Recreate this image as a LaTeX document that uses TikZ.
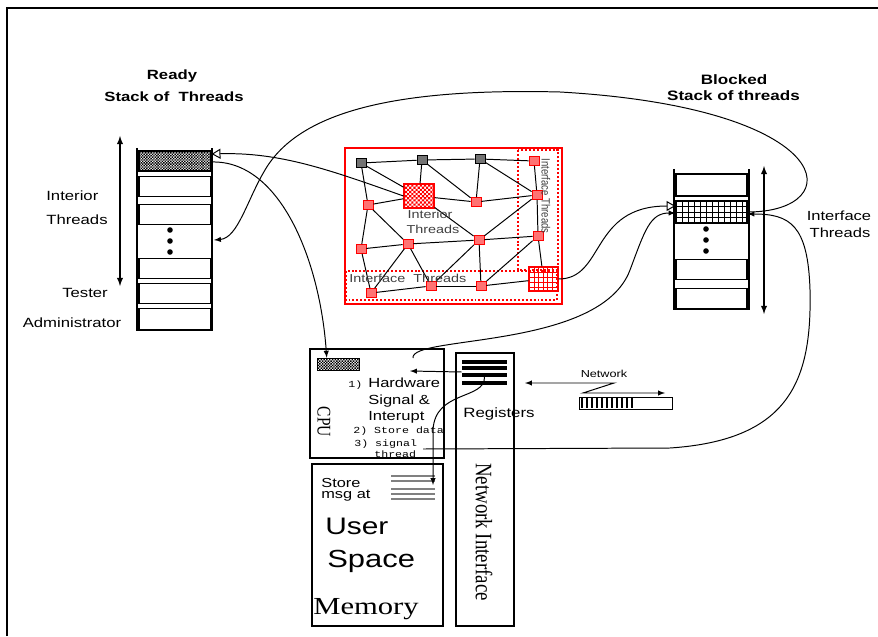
\documentclass[tikz,border=0pt]{standalone}
\usepackage{fontspec}
\setmainfont{Liberation Sans}
\newfontfamily\tmsfont{Liberation Serif}
\newfontfamily\crfont{Liberation Mono}
\usetikzlibrary{arrows, patterns, calc}
\newcommand{\fsz}[1]{\fontsize{#1}{#1}\selectfont}
\pgfdeclarepatternformonly{midchecker}{\pgfqpoint{-0.2pt}{-0.2pt}}{\pgfqpoint{2.2pt}{2.2pt}}{\pgfqpoint{2pt}{2pt}}{%
  \pgfpathrectangle{\pgfqpoint{0pt}{0pt}}{\pgfqpoint{1.02pt}{1.02pt}}%
  \pgfpathrectangle{\pgfqpoint{1pt}{1pt}}{\pgfqpoint{1.02pt}{1.02pt}}%
  \pgfusepath{fill}}
\pgfdeclarepatternformonly{redchecker}{\pgfqpoint{-0.2pt}{-0.2pt}}{\pgfqpoint{3.2pt}{3.2pt}}{\pgfqpoint{3pt}{3pt}}{%
  \pgfpathrectangle{\pgfqpoint{0pt}{0pt}}{\pgfqpoint{1.52pt}{1.52pt}}%
  \pgfpathrectangle{\pgfqpoint{1.5pt}{1.5pt}}{\pgfqpoint{1.52pt}{1.52pt}}%
  \pgfusepath{fill}}

\tikzset{
  txt/.style={inner sep=0pt, xscale=1.25},
  cell/.style={draw, line width=0.8pt, minimum width=1.8cm, minimum height=0.52cm, inner sep=0pt},
  tnode/.style={draw=red, fill=red!55, line width=0.6pt, minimum width=0.25cm, minimum height=0.22cm, inner sep=0pt},
  gnode/.style={draw=black, fill=black!55, line width=0.6pt, minimum width=0.25cm, minimum height=0.22cm, inner sep=0pt},
  reddot/.style={draw=red, line width=1.4pt, dash pattern=on 1.4pt off 1.4pt},
  box/.style={draw, line width=1pt, inner sep=0pt},
  conn/.style={line width=0.7pt},
}

\begin{document}
\begin{tikzpicture}[x=0.025cm, y=-0.025cm]
\useasboundingbox (0,0) rectangle (878,636);
%frame
\draw[line width=1.6pt] (7,636) -- (7,8) -- (878,8);

%ready stack
\draw[line width=1.3pt] (137,148) -- (137,330) -- (212,330) -- (212,148);
\node[cell, pattern=midchecker, minimum height=0.5cm] (r0) at (175,161) {};
\node[cell] (r1) at (175,186.5) {};
\node[cell] (r2) at (175,214.5) {};
\node[cell] (r3) at (175,268.5) {};
\node[cell] (r4) at (175,293.5) {};
\node[cell] (r5) at (175,319) {};
\foreach \y in {230,241,252} \fill (170,\y) circle[radius=2.8];
\coordinate (rdots) at (214,240);
\draw[latex-latex, line width=1pt] (120,136) -- (120,286);
\node[txt, font=\bfseries\fsz{9.5}] (readyttl) at (172,76) {Ready};
\node[txt, font=\bfseries\fsz{9.5}] (readysub) at (174,97) {Stack of\ \ Threads};
\node[txt, font=\fsz{9.5}, anchor=west] (rint1) at (46,196) {Interior};
\node[txt, font=\fsz{9.5}, anchor=west] (rint2) at (46,220) {Threads};
\node[txt, font=\fsz{9.5}] (tester) at (85,293) {Tester};
\node[txt, font=\fsz{9.5}] (admin) at (72,323) {Administrator};

%blocked stack
\draw[line width=1.3pt] (674,169) -- (674,309) -- (749,309) -- (749,169);
\node[cell, minimum width=1.775cm, minimum height=0.55cm] (b1) at (711.5,185) {};
\node[cell, minimum width=1.775cm, minimum height=0.55cm] (bgrid) at (711.5,212) {};
\foreach \x in {682,688,...,742} \draw[line width=0.6pt] (\x,201) -- (\x,223);
\foreach \y in {206.5,212,217.5} \draw[line width=0.6pt] (676,\y) -- (747,\y);
\foreach \y in {229,240,251} \fill (706,\y) circle[radius=2.8];
\node[cell, minimum width=1.775cm] (b3) at (711.5,269.5) {};
\node[cell, minimum width=1.775cm, minimum height=0.5cm] (b4) at (711.5,298.5) {};
\draw[latex-latex, line width=1pt] (764,166) -- (764,314);
\node[txt, font=\bfseries\fsz{9.7}] (blockttl) at (734,80) {Blocked};
\node[txt, font=\bfseries\fsz{9.7}] (blocksub) at (733.5,96) {Stack of threads};
\node[txt, font=\fsz{9.4}] (bint1) at (839,216) {Interface};
\node[txt, font=\fsz{9.4}] (bint2) at (840,233) {Threads};

%thread network
\draw[red, line width=1pt] (345,148) rectangle (562,304);
\draw[reddot] (518,150) rectangle (558,270);
\draw[reddot] (346,271) rectangle (557,300);
\node[gnode] (g1) at (361,163) {};
\node[gnode] (g2) at (422,160) {};
\node[gnode] (g3) at (480,159) {};
\node[tnode] (e1) at (534,161) {};
\node[tnode] (e2) at (537,195) {};
\node[tnode] (e3) at (538,236) {};
\node[tnode] (a1) at (368,205) {};
\node[tnode] (a2) at (476,202) {};
\node[tnode] (b1n) at (361,249) {};
\node[tnode] (b2n) at (408,244) {};
\node[tnode] (b3n) at (479,240) {};
\node[tnode] (c1) at (371,293) {};
\node[tnode] (c2) at (431,286) {};
\node[tnode] (c3) at (481,286) {};
\node[draw=red, line width=0.8pt, pattern=redchecker, pattern color=red, minimum width=0.75cm, minimum height=0.6cm, inner sep=0pt] (big) at (419,196) {};
\node[draw=red, line width=0.8pt, minimum width=0.725cm, minimum height=0.6cm, inner sep=0pt] (ngrid) at (543.5,279) {};
\foreach \x in {534,538.5,...,553} \draw[red, line width=0.5pt] (\x,267) -- (\x,291);
\foreach \y in {272,277,282,287} \draw[red, line width=0.5pt] (529,\y) -- (558,\y);
\foreach \a/\b in {g1/g2,g2/g3,g3/e1,g1/big,g1/a1,g2/big,g2/a2,g3/a2,g3/e2,e1/e2,a1/big,big/a2,a2/e2,big/b3n,a1/b1n,a1/b2n,b1n/b2n,b1n/c1,b2n/b3n,b2n/c1,b2n/c2,b3n/e2,b3n/e3,b3n/c3,b3n/c2,c1/c2,c2/c3,c3/e3,c3/ngrid,e3/ngrid,e2/e3}
  \draw[conn] (\a) -- (\b);
\node[txt, font=\fsz{8.2}, text=black!75] (nint1) at (430,214) {Interior};
\node[txt, font=\fsz{8.2}, text=black!75] (nint2) at (433,229) {Threads};
\node[txt, font=\fsz{8.2}, text=black!75, anchor=west] (nif) at (349,278) {Interface\ \ Threads};
\node[txt, font=\fsz{6.8}, text=black!75, rotate=-90] (nifv) at (546,196) {Interface Threads};

%cpu
\node[box, minimum width=3.35cm, minimum height=2.725cm] (cpu) at (377,403.5) {};
\node[draw, pattern=midchecker, minimum width=1.05cm, minimum height=0.3cm, inner sep=0pt] (cpuflag) at (338,364) {};
\node[txt, font=\tmsfont\fsz{11}, rotate=-90] (cpulbl) at (324,422) {CPU};
\node[txt, font=\crfont\fsz{6.6}, anchor=base west] (st1) at (348,387) {1)};
\node[txt, font=\fsz{9.4}, anchor=base west] (hw1) at (368,387) {Hardware};
\node[txt, font=\fsz{9.4}, anchor=base west] (hw2) at (368,404) {Signal \&};
\node[txt, font=\fsz{9.4}, anchor=base west] (hw3) at (368,420) {Interupt};
\node[txt, font=\crfont\fsz{6.6}, anchor=base west] (st2) at (353,433) {2) Store data};
\node[txt, font=\crfont\fsz{6.6}, anchor=base west] (st3) at (354,446) {3) signal};
\node[txt, font=\crfont\fsz{6.6}, anchor=base west] (st3b) at (374,457) {thread};
\coordinate (sigout) at (423,449);
\coordinate (cputop) at (413,358);
\coordinate (cpuin) at (410,371);

%memory
\node[box, minimum width=3.275cm, minimum height=4.05cm] (mem) at (377.5,545) {};
\node[minimum width=1.1cm, minimum height=0.6cm, inner sep=0pt] (memlines) at (413,487) {};
\foreach \y in {476,481,489,494,499} \draw[gray, line width=1.2pt] (391,\y) -- (435,\y);
\coordinate (memin) at (433,485);
\node[txt, font=\fsz{9.3}, anchor=base west] (sm1) at (321,487) {Store};
\node[txt, font=\fsz{9.3}, anchor=base west] (sm2) at (321,498) {msg at};
\node[txt, font=\fsz{17}, anchor=base west] (user) at (325,534) {User};
\node[txt, font=\fsz{17.6}, anchor=base west] (space) at (327,567) {Space};
\node[txt, font=\tmsfont\fsz{17.4}, anchor=base west] (memlbl) at (313,614) {Memory};

%network interface
\node[box, minimum width=1.45cm, minimum height=6.825cm] (ni) at (485,489.5) {};
\node[minimum width=1.125cm, minimum height=0.6cm, inner sep=0pt] (regs) at (484.5,372) {};
\foreach \y in {362,368,375,383} \draw[line width=2.6pt] (462,\y) -- (507,\y);
\node[txt, font=\fsz{9.6}] (reglbl) at (499,414) {Registers};
\node[txt, font=\tmsfont\fsz{13.4}, rotate=-90] (nilbl) at (484,532) {Network Interface};

%network buffer
\node[draw, line width=0.7pt, minimum width=2.325cm, minimum height=0.3cm, inner sep=0pt] (netbuf) at (625.5,403) {};
\foreach \x in {582,587,...,632} \draw[line width=1.6pt] (\x,398) -- (\x,408);
\node[txt, font=\fsz{7.2}] (netlbl) at (604,374) {Network};
\coordinate (netA) at (525,383);
\coordinate (netB) at (665,393);
\draw[conn, latex-latex] (netA) -- (614,383) -- (583,393) -- (netB);

%connectors
\draw[conn, -open triangle 60] (big.west) .. controls (330,170) and (280,152) .. ($(r0.east)+(0,-7)$);
\draw[conn, -latex] ($(r0.east)+(0,1)$) .. controls (280,160) and (320,260) .. ($(cpuflag.north west)+(10,0)$);
\draw[conn, -latex] (bgrid.east) .. controls (850,212) and (840,108) .. (560,92) .. controls (400,88) and (300,110) .. (265,170) .. controls (247,200) and (238,238) .. (rdots);
\draw[conn, -latex] (sigout) -- (670,448) .. controls (790,440) and (812,380) .. (810,290) .. controls (808,225) and (790,214) .. ($(bgrid.east)+(0,2)$);
\draw[conn, -open triangle 60] (ngrid.east) .. controls (605,279) and (590,206) .. ($(bgrid.west)+(0,-6)$);
\draw[conn, -latex] (cputop) .. controls (410,335) and (600,350) .. (630,270) .. controls (645,230) and (650,213) .. ($(bgrid.west)+(0,1)$);
\draw[conn, -latex] (regs.west) -- (cpuin);
\draw[conn, -latex] ($(regs.center)+(0,5)$) .. controls (485,400) and (435,390) .. (433,430) -- (memin);
\end{tikzpicture}
\end{document}
